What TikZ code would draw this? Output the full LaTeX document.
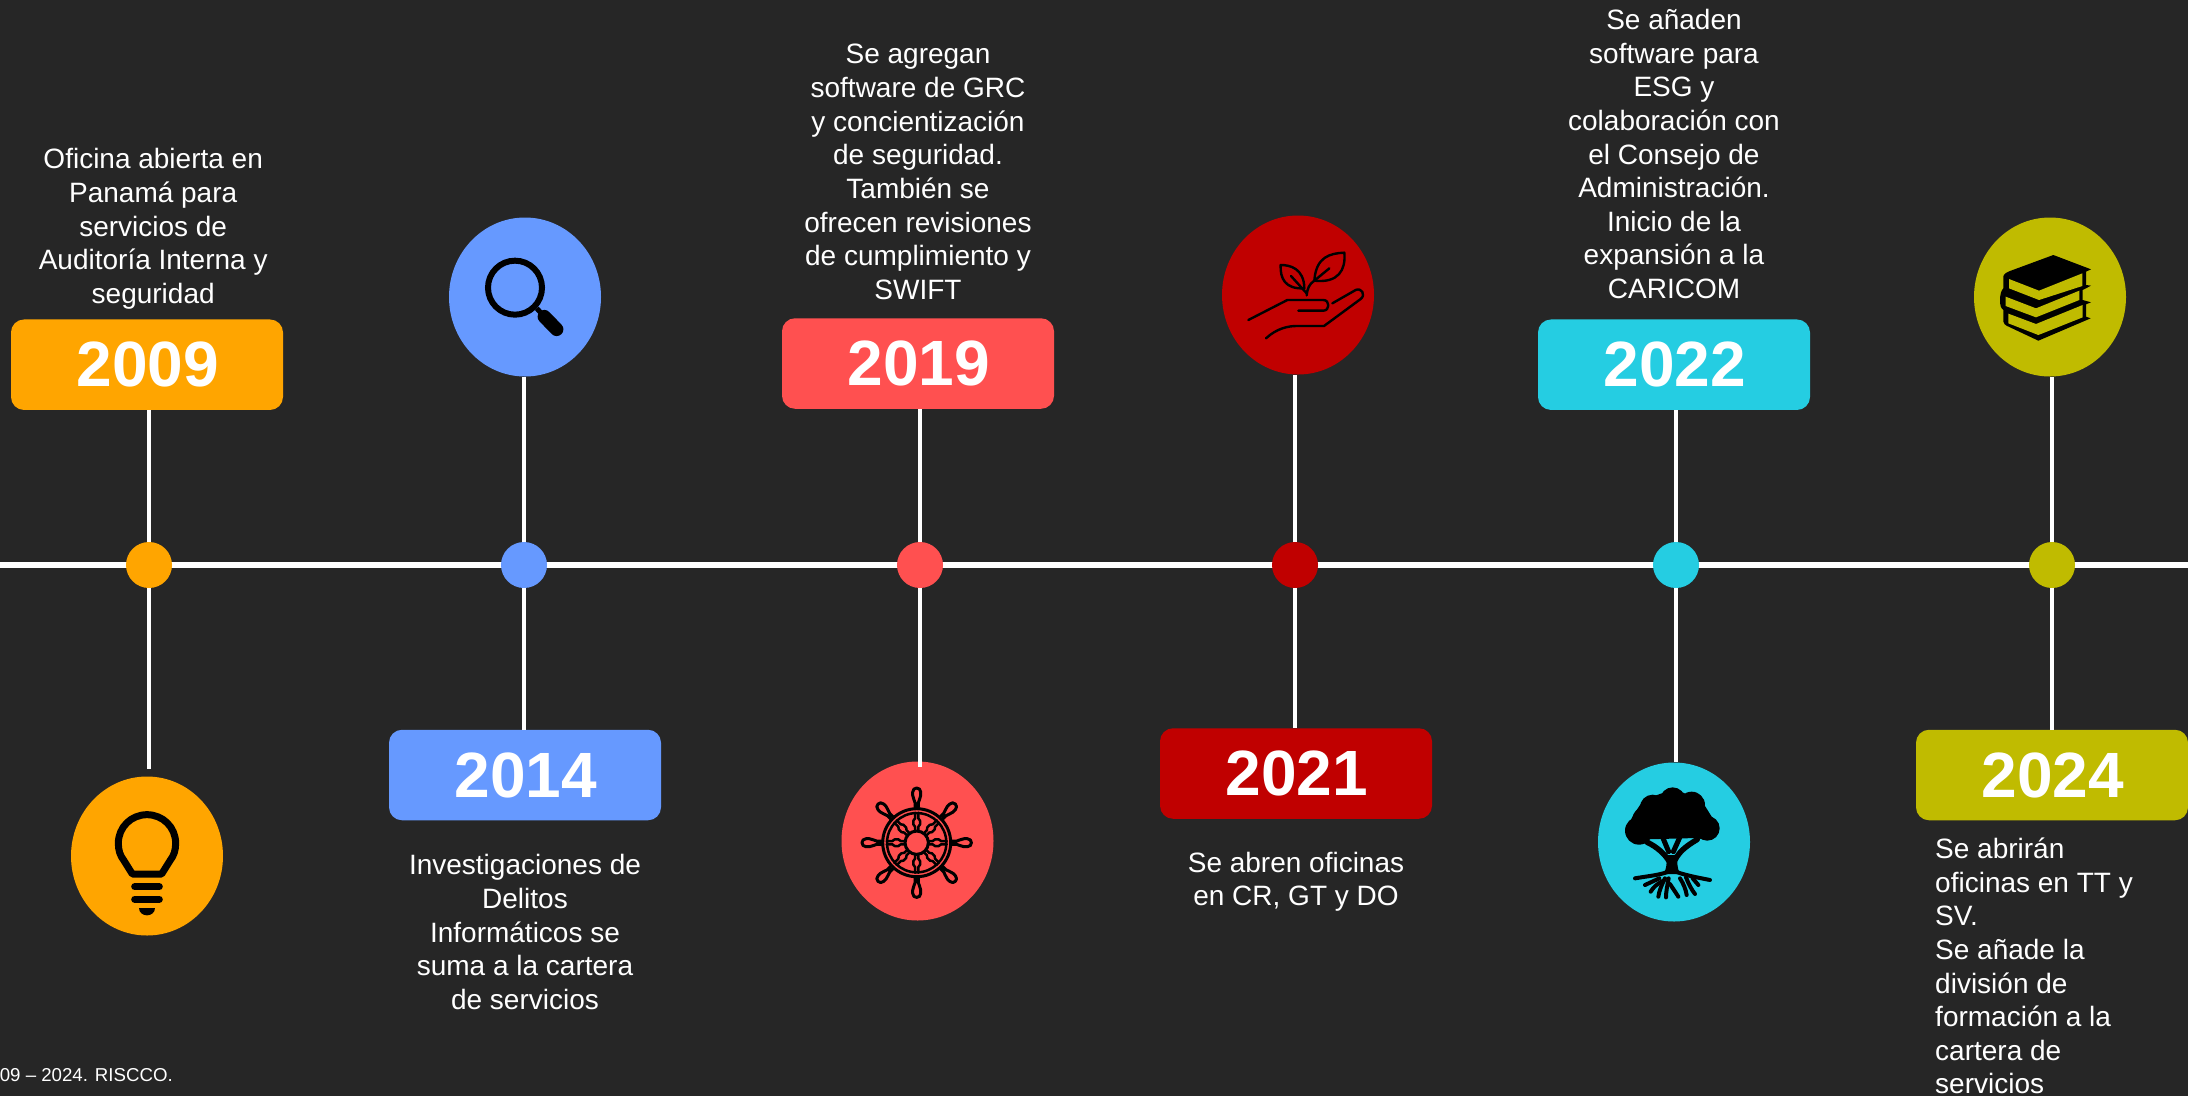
\documentclass[tikz,border=0pt]{standalone}
\usepackage{fontspec}
\setmainfont{Liberation Sans}
\usetikzlibrary{shapes.geometric}
\definecolor{bgc}{HTML}{262626}
\definecolor{corange}{HTML}{FFA500}
\definecolor{cblue}{HTML}{6699FF}
\definecolor{cred}{HTML}{FF5050}
\definecolor{cdark}{HTML}{C00000}
\definecolor{ccyan}{HTML}{25CDE2}
\definecolor{colive}{HTML}{C0BB00}
\newcommand{\yeartxt}[1]{\hspace*{1.4pt}\raisebox{-2.4pt}{#1}}
\tikzset{
  yearbox/.style={fill=#1,rounded corners=13pt,minimum width=272pt,minimum height=90.5pt,inner sep=0pt,text=white,font=\fontsize{64}{70}\bfseries\selectfont},
  dotnode/.style={circle,fill=#1,minimum size=46pt,inner sep=0pt},
  iconbg/.style={ellipse,fill=#1,minimum width=152pt,minimum height=159pt,inner sep=0pt},
  desc/.style={text=white,align=center,inner sep=0pt,font=\fontsize{28}{33.65}\selectfont},
  descl/.style={text=white,align=left,inner sep=0pt,font=\fontsize{28}{33.65}\selectfont},
  conn/.style={white,line width=4pt},
  mainline/.style={white,line width=6pt},
  ik/.style={line width=#1,black,line cap=round,line join=round},
}
\begin{document}
\begin{tikzpicture}[x=1pt,y=-1pt]
\useasboundingbox (0,0) rectangle (2188,1095.5);
\fill[bgc] (-5,-5) rectangle (2195,1102);
\coordinate (ml) at (-3,565.3);
\coordinate (mr) at (2191,565.3);
\draw[mainline] (ml) -- (mr);
% year boxes
\node[yearbox=corange] (b09) at (147,364.7) {\yeartxt{2009}};
\node[yearbox=cblue]   (b14) at (525,775) {\yeartxt{2014}};
\node[yearbox=cred]    (b19) at (918,363.5) {\yeartxt{2019}};
\node[yearbox=cdark]   (b21) at (1296,773.5) {\yeartxt{2021}};
\node[yearbox=ccyan]   (b22) at (1674,364.7) {\yeartxt{2022}};
\node[yearbox=colive]  (b24) at (2052,775) {\yeartxt{2024}};
% dots
\node[dotnode=corange] (d09) at (149,565) {};
\node[dotnode=cblue]   (d14) at (524,565) {};
\node[dotnode=cred]    (d19) at (920,565) {};
\node[dotnode=cdark]   (d21) at (1295,565) {};
\node[dotnode=ccyan]   (d22) at (1676,565) {};
\node[dotnode=colive]  (d24) at (2052,565) {};
% icon discs
\node[iconbg=corange] (i09) at (147,856) {};
\node[iconbg=cblue]   (i14) at (525,297) {};
\node[iconbg=cred]    (i19) at (917.5,841) {};
\node[iconbg=cdark]   (i21) at (1298,295) {};
\node[iconbg=ccyan]   (i22) at (1674,842) {};
\node[iconbg=colive]  (i24) at (2050,297) {};
% connectors
\coordinate (e09) at (149,769);
\coordinate (e19) at (920,767);
\draw[conn] (d09.north) -- (d09 |- b09.south);
\draw[conn] (d09.south) -- (e09);
\draw[conn] (d14.north) -- (d14 |- i14.south);
\draw[conn] (d14.south) -- (d14 |- b14.north);
\draw[conn] (d19.north) -- (d19 |- b19.south);
\draw[conn] (d19.south) -- (e19);
\draw[conn] (d21.north) -- (d21 |- i21.south);
\draw[conn] (d21.south) -- (d21 |- b21.north);
\draw[conn] (d22.north) -- (d22 |- b22.south);
\draw[conn] (d22.south) -- (d22 |- i22.north);
\draw[conn] (d24.north) -- (d24 |- i24.south);
\draw[conn] (d24.south) -- (d24 |- b24.north);
% texts
\node[desc] (t09) at (153.2,228.8) {Oficina abierta en\\Panamá para\\servicios de\\Auditoría Interna y\\seguridad};
\node[desc] (t14) at (525,932) {Investigaciones de\\Delitos\\Informáticos se\\suma a la cartera\\de servicios};
\node[desc] (t19) at (918,172) {Se agregan\\software de GRC\\y concientización\\de seguridad.\\También se\\ofrecen revisiones\\de cumplimiento y\\SWIFT};
\node[desc] (t21) at (1296,881.8) {Se abren oficinas\\en CR, GT y DO};
\node[desc] (t22) at (1674,154) {Se añaden\\software para\\ESG y\\colaboración con\\el Consejo de\\Administración.\\Inicio de la\\expansión a la\\CARICOM};
\node[descl,anchor=west] (t24) at (1935,966) {Se abrirán\\oficinas en TT y\\SV.\\Se añade la\\división de\\formación a la\\cartera de\\servicios};
\node[text=white,inner sep=0pt,anchor=base east,font=\fontsize{18.67}{22}\selectfont] (foot) at (173,1081) {2009 – 2024. RISCCO.};
% bulb
\begin{scope}[shift={(0,740)},scale=0.33333]
\draw[ik=7pt] (397,402) -- (372,362) .. controls (360,347) and (355,330) .. (355,310) .. controls (355,262) and (393,224) .. (441,224) .. controls (489,224) and (527,262) .. (527,310) .. controls (527,330) and (522,347) .. (510,362) -- (485,402) -- cycle;
\draw[ik=7pt] (404,440) -- (478,440);
\draw[ik=7pt] (404,478) -- (478,478);
\fill[black] (417,504) -- (465,504) .. controls (465,518) and (453,526) .. (441,526) .. controls (429,526) and (417,518) .. (417,504) -- cycle;
\end{scope}
% magnifier
\begin{scope}[shift={(430,200)},scale=0.33333]
\draw[black,line width=6pt] (255,263) circle [radius=81];
\draw[black,line width=5pt] (320,325) -- (342,348);
\draw[ik=13.5pt] (343,350) -- (380,388);
\end{scope}
% ship wheel
\foreach \a in {0,45,...,315}{
\begin{scope}[shift={(916.7,842.7)},rotate=\a,scale=0.33333]
\draw[ik=3pt,fill=cred] (-5,-106) -- (-5,-120) .. controls (-5,-127) and (-12,-132) .. (-12,-142) -- (-12,-152) .. controls (-12,-168) and (12,-168) .. (12,-152) -- (12,-142) .. controls (12,-132) and (5,-127) .. (5,-120) -- (5,-106);
\draw[ik=2.5pt] (-5,-38) -- (-5,-48) -- (-10,-55) -- (-10,-66) -- (-5,-73) -- (-5,-90);
\draw[ik=2.5pt] (5,-38) -- (5,-48) -- (10,-55) -- (10,-66) -- (5,-73) -- (5,-90);
\end{scope}}
\begin{scope}[shift={(916.7,842.7)},scale=0.33333]
\draw[black,line width=3pt] (0,0) circle [radius=102];
\draw[black,line width=2.5pt] (0,0) circle [radius=89];
\draw[black,line width=3pt] (0,0) circle [radius=35];
\end{scope}
% plant in hand
\begin{scope}[shift={(1210,200)},scale=0.33333]
\draw[ik=2.4pt] (115,360) -- (232,300) -- (340,300) .. controls (360,300) and (360,332) .. (340,332) -- (265,332);
\draw[ik=2.4pt] (168,415) .. controls (200,385) and (235,378) .. (260,378) -- (342,378) -- (452,297) .. controls (468,285) and (455,262) .. (437,270) -- (367,310);
\draw[ik=2.4pt] (212,195) .. controls (240,195) and (282,205) .. (283,265) .. controls (225,268) and (210,235) .. (212,195) -- cycle;
\draw[ik=2.4pt] (243,228) -- (290,280);
\draw[ik=2.4pt] (403,158) .. controls (360,160) and (318,170) .. (313,242) .. controls (385,250) and (408,210) .. (403,158) -- cycle;
\draw[ik=2.4pt] (358,205) -- (313,242) .. controls (298,252) and (292,265) .. (290,286);
\end{scope}
% tree
\begin{scope}[shift={(1580,750)},scale=0.33333]
\fill[black] (177,242) circle [radius=42];
\fill[black] (382,235) circle [radius=37];
\fill[black] (218,172) circle [radius=38];
\fill[black] (278,150) circle [radius=38];
\fill[black] (335,165) circle [radius=40];
\fill[black] (190,205) circle [radius=32];
\fill[black] (140,235) -- (160,195) -- (190,150) -- (245,130) -- (310,128) -- (370,160) -- (395,200) -- (415,235) -- (370,268) -- (350,264) -- (200,268) -- (165,280) -- cycle;
\draw[ik=5.5pt] (200,276) .. controls (230,290) and (255,312) .. (268,335);
\draw[ik=5pt] (248,262) -- (266,305);
\draw[ik=5pt] (302,256) -- (280,305);
\draw[ik=5.5pt] (352,268) .. controls (325,285) and (300,300) .. (285,330);
\fill[black] (258,315) -- (294,315) .. controls (290,340) and (292,355) .. (300,372) -- (250,372) .. controls (260,355) and (262,340) .. (258,315) -- cycle;
\draw[ik=4pt] (165,385) .. controls (205,378) and (245,375) .. (272,362);
\draw[ik=4pt] (390,390) .. controls (350,382) and (310,375) .. (280,362);
\draw[ik=4pt] (238,385) -- (195,405);
\draw[ik=4pt] (250,392) .. controls (230,402) and (220,412) .. (212,425);
\draw[ik=4pt] (255,385) .. controls (245,405) and (238,420) .. (235,440);
\draw[ik=4pt] (266,385) .. controls (262,405) and (258,425) .. (258,442);
\draw[ik=4pt] (270,402) -- (295,440);
\draw[ik=4pt] (300,385) .. controls (310,400) and (318,420) .. (320,435);
\draw[ik=4pt] (318,382) .. controls (325,400) and (335,420) .. (345,432);
\draw[ik=4pt] (338,385) -- (355,405);
\end{scope}
% books
\begin{scope}[shift={(1960,210)},scale=0.33333]
\fill[black] (150,183) -- (280,135) -- (393,178) -- (378,185) -- (378,225) -- (393,227) -- (368,240) -- (368,270) -- (393,277) -- (378,283) -- (378,320) -- (392,325) -- (235,392) -- (150,352) .. controls (135,346) and (130,340) .. (130,335) -- (130,300) .. controls (122,295) and (120,285) .. (120,270) .. controls (120,250) and (125,240) .. (130,235) -- (130,200) .. controls (130,192) and (140,187) .. (150,183) -- cycle;
\fill[colive] (147,207) -- (237,242) -- (367,190) -- (367,228) -- (237,270) -- (147,235) -- cycle;
\fill[colive] (137,260) -- (228,295) -- (358,242) -- (358,270) -- (228,322) -- (137,288) -- cycle;
\fill[colive] (145,311) -- (228,342) -- (368,285) -- (368,322) -- (235,375) -- (145,340) -- cycle;
\end{scope}
\end{tikzpicture}
\end{document}
